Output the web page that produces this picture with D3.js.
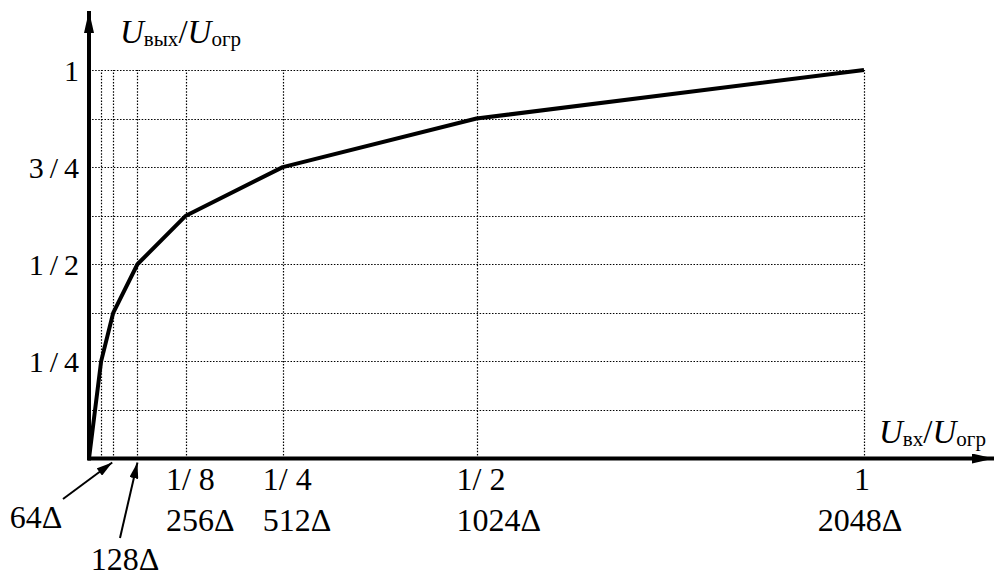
<!DOCTYPE html>
<html>
<head>
<meta charset="utf-8">
<script src="https://cdn.jsdelivr.net/npm/d3@7"></script>
<style>
  body { margin: 0; background: #fff; }
  svg text { font-family: 'Liberation Serif', 'Times New Roman', Times, Tinos, 'DejaVu Serif', 'Noto Serif', FreeSerif, serif; }
</style>
</head>
<body>
<div id="chart"></div>
<script>
// Characteristic breakpoints (input / output, relative to U_огр)
const inputBreaks = [0, 1 / 64, 1 / 32, 1 / 16, 1 / 8, 1 / 4, 1 / 2, 1];
const outputLevels = [0, 1 / 4, 3 / 8, 1 / 2, 5 / 8, 3 / 4, 7 / 8, 1];

// Dotted grid
const xGrid = [1 / 64, 1 / 32, 1 / 16, 1 / 8, 1 / 4, 1 / 2, 1];
const yGrid = [1 / 8, 1 / 4, 3 / 8, 1 / 2, 5 / 8, 3 / 4, 7 / 8, 1];

// Tick labels
const xTickValues = [1 / 8, 1 / 4, 1 / 2, 1];
const xTickLabels = ["1/ 8", "1/ 4", "1/ 2", "1"];
const xStepLabels = ["256Δ", "512Δ", "1024Δ", "2048Δ"];
const yTickValues = [1 / 4, 1 / 2, 3 / 4, 1];
const yTickLabels = ["1\u2009/\u20094", "1\u2009/\u20092", "3\u2009/\u20094", "1"];

// Pointer annotations for the small segments
const pointerValues = [1 / 32, 1 / 16];
const pointerLabels = ["64Δ", "128Δ"];

const w = 994;
const h = 577;
const serif = "'Liberation Serif', 'Times New Roman', Times, Tinos, 'DejaVu Serif', serif";

const x = d3.scaleLinear().domain([0, 1]).range([89, 864]);
const y = d3.scaleLinear().domain([0, 1]).range([458.5, 70]);
const px = v => Math.round(v) + 0.5; // crisp dotted lines

const svg = d3.select("#chart").append("svg").attr("width", w).attr("height", h);

const defs = svg.append("defs");
defs.append("marker")
  .attr("id", "axisHead")
  .attr("viewBox", "0 0 22 10")
  .attr("refX", 22).attr("refY", 5)
  .attr("markerWidth", 22).attr("markerHeight", 10)
  .attr("markerUnits", "userSpaceOnUse")
  .attr("orient", "auto")
  .append("path").attr("d", "M0,0 L22,5 L0,10 Z").attr("fill", "#000");
defs.append("marker")
  .attr("id", "ptrHead")
  .attr("viewBox", "0 0 16 9")
  .attr("refX", 16).attr("refY", 4.5)
  .attr("markerWidth", 16).attr("markerHeight", 9)
  .attr("markerUnits", "userSpaceOnUse")
  .attr("orient", "auto")
  .append("path").attr("d", "M0,0 L16,4.5 L0,9 Z").attr("fill", "#000");

// grid
const grid = svg.append("g")
  .attr("stroke", "#000")
  .attr("stroke-width", 1.2)
  .attr("stroke-dasharray", "1.5,1.6");
grid.selectAll(".vg").data(xGrid).enter().append("line")
  .attr("x1", d => px(x(d))).attr("x2", d => px(x(d)))
  .attr("y1", y(0)).attr("y2", y(1));
grid.selectAll(".hg").data(yGrid).enter().append("line")
  .attr("x1", x(0)).attr("x2", x(1))
  .attr("y1", d => px(y(d))).attr("y2", d => px(y(d)));

// axes
svg.append("line")
  .attr("x1", x(0) - 1).attr("y1", y(0))
  .attr("x2", 994).attr("y2", y(0))
  .attr("stroke", "#000").attr("stroke-width", 4)
  .attr("marker-end", "url(#axisHead)");
svg.append("line")
  .attr("x1", x(0)).attr("y1", y(0) + 2)
  .attr("x2", x(0)).attr("y2", 11)
  .attr("stroke", "#000").attr("stroke-width", 4)
  .attr("marker-end", "url(#axisHead)");

// characteristic curve
const line = d3.line()
  .x(d => x(d[0]))
  .y(d => y(d[1]));
svg.append("path")
  .datum(d3.zip(inputBreaks, outputLevels))
  .attr("d", line)
  .attr("fill", "none")
  .attr("stroke", "#000")
  .attr("stroke-width", 4)
  .attr("stroke-linejoin", "round");

// y tick labels
svg.selectAll(".ylab").data(yTickValues).enter().append("text")
  .attr("font-family", serif)
  .attr("x", 79)
  .attr("y", d => y(d) + 10.5)
  .attr("text-anchor", "end")
  .attr("font-size", 30)
  .text((d, i) => yTickLabels[i]);

// x tick labels (fractions + step counts)
xTickValues.forEach((v, i) => {
  const last = i === xTickValues.length - 1;
  svg.append("text")
    .attr("font-family", serif)
    .attr("x", last ? x(v) - 2 : x(v) - 20)
    .attr("y", 490)
    .attr("text-anchor", last ? "middle" : "start")
    .attr("font-size", 32)
    .text(xTickLabels[i]);
  svg.append("text")
    .attr("font-family", serif)
    .attr("x", last ? x(v) - 4 : x(v) - 20)
    .attr("y", 531)
    .attr("text-anchor", last ? "middle" : "start")
    .attr("font-size", 32)
    .text(xStepLabels[i]);
});

// pointers to the first small segments
const ptrStarts = [[63, 499], [120, 538]];
const ptrText = [[36, 528], [125, 570]];
pointerValues.forEach((v, i) => {
  svg.append("line")
    .attr("x1", ptrStarts[i][0]).attr("y1", ptrStarts[i][1])
    .attr("x2", x(v) - (i === 0 ? 1 : 0)).attr("y2", y(0) + 4)
    .attr("stroke", "#000").attr("stroke-width", 2)
    .attr("marker-end", "url(#ptrHead)");
  svg.append("text")
    .attr("font-family", serif)
    .attr("x", ptrText[i][0]).attr("y", ptrText[i][1])
    .attr("text-anchor", "middle")
    .attr("font-size", 32)
    .text(pointerLabels[i]);
});

// axis titles U_вых/U_огр and U_вх/U_огр
function ratioTitle(tx, ty, sub1, sub2) {
  const t = svg.append("text").attr("font-family", serif)
    .attr("x", tx).attr("y", ty).attr("font-size", 33);
  t.append("tspan").attr("font-style", "italic").text("U");
  t.append("tspan").attr("font-size", 21).attr("dy", 3).text(sub1);
  t.append("tspan").attr("dy", -3).text("/");
  t.append("tspan").attr("font-style", "italic").text("U");
  t.append("tspan").attr("font-size", 21).attr("dy", 3).text(sub2);
}
ratioTitle(120, 43, "вых", "огр");
ratioTitle(879, 443, "вх", "огр");
</script>
</body>
</html>
